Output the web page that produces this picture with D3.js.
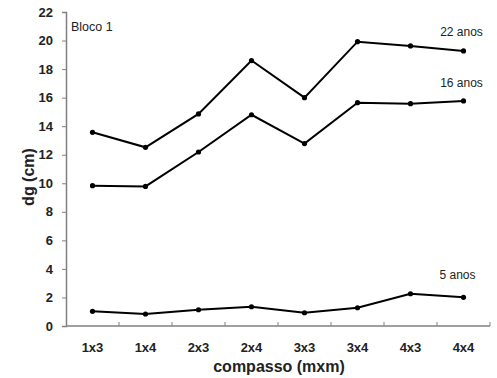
<!DOCTYPE html>
<html>
<head>
<meta charset="utf-8">
<script src="https://cdn.jsdelivr.net/npm/d3@7"></script>
<style>
  body { margin: 0; background: #fff; }
  text { font-family: "Liberation Sans", Arial, sans-serif; }
</style>
</head>
<body>
<svg id="chart" width="497" height="378"></svg>
<script>
var categories = ["1x3", "1x4", "2x3", "2x4", "3x3", "3x4", "4x3", "4x4"]
var yTicks = [0, 2, 4, 6, 8, 10, 12, 14, 16, 18, 20, 22]
var anos22 = [13.57, 12.52, 14.86, 18.6, 16.0, 19.92, 19.62, 19.27]
var anos16 = [9.83, 9.78, 12.19, 14.8, 12.78, 15.65, 15.58, 15.77]
var anos5 = [1.03, 0.84, 1.14, 1.35, 0.93, 1.28, 2.26, 2.01]
var seriesNames = ["22 anos", "16 anos", "5 anos"]

var margin = {top: 12, right: 7, bottom: 52, left: 66}
var width = 497 - margin.left - margin.right
var height = 378 - margin.top - margin.bottom

var svg = d3.select("#chart")
var g = svg.append("g").attr("transform", "translate(" + margin.left + "," + margin.top + ")")

var xScale = d3.scaleBand().domain(categories).range([0, width])
var yScale = d3.scaleLinear().domain([0, 22]).range([height, 0])

// y axis
var yAxis = g.append("g")
  .call(d3.axisLeft(yScale).tickValues(yTicks).tickSize(4).tickPadding(9))
yAxis.select(".domain").attr("stroke", "#808080").attr("stroke-width", 1.5)
yAxis.selectAll(".tick line").attr("stroke", "#808080")
yAxis.selectAll("text").attr("font-size", 13).attr("font-weight", "bold").attr("fill", "#222")

// x axis, ticks between categories pointing up
var xAxis = g.append("g").attr("transform", "translate(0," + height + ")")
xAxis.append("line").attr("x1", 0).attr("x2", width).attr("stroke", "#808080").attr("stroke-width", 1.5)
xAxis.selectAll(".xt").data(categories)
  .enter().append("line")
  .attr("x1", function (d) { return xScale(d) + xScale.bandwidth() }).attr("x2", function (d) { return xScale(d) + xScale.bandwidth() })
  .attr("y1", 0).attr("y2", -4).attr("stroke", "#808080")
xAxis.selectAll(".xl").data(categories)
  .enter().append("text")
  .attr("x", function (d) { return xScale(d) + xScale.bandwidth() / 2 })
  .attr("y", 26)
  .attr("text-anchor", "middle")
  .attr("font-size", 13).attr("font-weight", "bold").attr("fill", "#222")
  .text(function (d) { return d })

// axis titles
svg.append("text").attr("x", 279).attr("y", 372)
  .attr("text-anchor", "middle").attr("font-size", 16).attr("font-weight", "bold").attr("fill", "#222")
  .text("compasso (mxm)")
svg.append("text").attr("transform", "translate(34," + (margin.top + height / 2 + 8) + ") rotate(-90)")
  .attr("text-anchor", "middle").attr("font-size", 16).attr("font-weight", "bold").attr("fill", "#222")
  .text("dg (cm)")

svg.append("text").attr("x", 71).attr("y", 31).attr("font-size", 12.5).attr("fill", "#222").text("Bloco 1")

// lines
var line = d3.line()
  .x(function (d, i) { return xScale(categories[i]) + xScale.bandwidth() / 2 })
  .y(function (d) { return yScale(d) })

var allSeries = [anos22, anos16, anos5]
allSeries.forEach(function (s) {
  g.append("path").datum(s).attr("d", line)
    .attr("fill", "none").attr("stroke", "#000").attr("stroke-width", 2)
  g.selectAll(null).data(s).enter().append("circle")
    .attr("cx", function (d, i) { return xScale(categories[i]) + xScale.bandwidth() / 2 })
    .attr("cy", function (d) { return yScale(d) })
    .attr("r", 2.6).attr("fill", "#000")
})

// series labels above the last point
var labelOffset = [[-2, 15], [-2, 14], [-6, 18]]
allSeries.forEach(function (s, k) {
  var last = categories[categories.length - 1]
  g.append("text")
    .attr("x", xScale(last) + xScale.bandwidth() / 2 + labelOffset[k][0])
    .attr("y", yScale(s[s.length - 1]) - labelOffset[k][1])
    .attr("text-anchor", "middle").attr("font-size", 12).attr("fill", "#222")
    .text(seriesNames[k])
})
</script>
</body>
</html>
